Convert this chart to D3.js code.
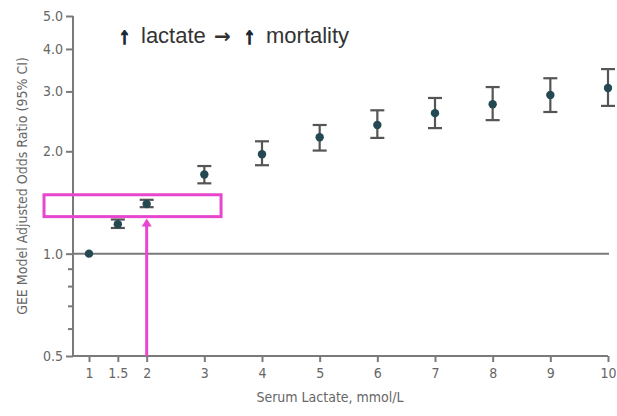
<!DOCTYPE html>
<html>
<head>
<meta charset="utf-8">
<script src="https://cdn.jsdelivr.net/npm/d3@7"></script>
<style>
  body { margin: 0; background: #fff; }
  svg { display: block; }
  .axis path, .axis line { stroke: #7a7a7a; stroke-width: 2; }
  .axis text { fill: #666; font-family: "Liberation Sans Narrow", "DejaVu Sans Condensed", sans-serif; font-size: 14px; }
</style>
</head>
<body>
<script>
// data
var lactate = [1, 1.5, 2, 3, 4, 5, 6, 7, 8, 9, 10];
var oddsRatio = [1.0, 1.22, 1.40, 1.71, 1.96, 2.20, 2.39, 2.59, 2.75, 2.93, 3.07];
var ciLow  = [null, 1.19, 1.37, 1.61, 1.82, 2.01, 2.19, 2.34, 2.47, 2.61, 2.72];
var ciHigh = [null, 1.26, 1.44, 1.81, 2.14, 2.39, 2.64, 2.87, 3.09, 3.28, 3.49];

var xTicks = [1, 1.5, 2, 3, 4, 5, 6, 7, 8, 9, 10];
var yTicks = [0.5, 1, 2, 3, 4, 5];
var yMinor = [0.6, 0.7, 0.8, 0.9];

// highlight box + arrow (in data units)
var boxX = [0.22, 3.29];
var boxY = [1.285, 1.49];
var arrowX = 2;

var w = 617, h = 416;
var svg = d3.select("body").append("svg").attr("width", w).attr("height", h);

var x = d3.scaleLinear().domain([1, 10]).range([89, 608]);
var y = d3.scaleLog().domain([0.5, 5]).range([356, 16]);

// x axis
var xAxis = svg.append("g")
    .attr("class", "axis")
    .attr("transform", "translate(0,356)")
    .call(d3.axisBottom(x).tickValues(xTicks).tickSize(6).tickPadding(6)
        .tickFormat(function(d) { return d; }));
xAxis.select(".domain").attr("d", "M73,0H608");

// y axis
var yAxis = svg.append("g")
    .attr("class", "axis")
    .attr("transform", "translate(73,0)")
    .call(d3.axisLeft(y).tickValues(yTicks).tickSize(7).tickPadding(3)
        .tickFormat(d3.format(".1f")));
yAxis.select(".domain").attr("d", "M0,356V16");

svg.append("g").selectAll("line")
    .data(yMinor)
    .enter()
    .append("line")
    .attr("x1", 68).attr("x2", 73)
    .attr("y1", function(d) { return y(d); })
    .attr("y2", function(d) { return y(d); })
    .attr("stroke", "#7a7a7a").attr("stroke-width", 2);

// reference line at OR = 1
svg.append("line")
    .attr("x1", 73).attr("x2", 609)
    .attr("y1", y(1)).attr("y2", y(1))
    .attr("stroke", "#7a7a7a").attr("stroke-width", 2);

// axis titles
svg.append("text")
    .attr("x", 330).attr("y", 402)
    .attr("text-anchor", "middle")
    .attr("font-family", "Liberation Sans Narrow, DejaVu Sans Condensed, sans-serif")
    .attr("font-size", 14).attr("fill", "#666")
    .text("Serum Lactate, mmol/L");

svg.append("text")
    .attr("transform", "translate(27,186) rotate(-90)")
    .attr("text-anchor", "middle")
    .attr("font-family", "Liberation Sans Narrow, DejaVu Sans Condensed, sans-serif")
    .attr("font-size", 14).attr("fill", "#666")
    .text("GEE Model Adjusted Odds Ratio (95% CI)");

// error bars
var pts = lactate.map(function(d, i) {
    return { x: d, or: oddsRatio[i], lo: ciLow[i], hi: ciHigh[i] };
});
var withCI = pts.filter(function(d) { return d.lo !== null; });
var bars = svg.append("g").attr("stroke", "#555").attr("stroke-width", 2.2);
bars.selectAll(".v").data(withCI).enter().append("line")
    .attr("x1", function(d) { return x(d.x); })
    .attr("x2", function(d) { return x(d.x); })
    .attr("y1", function(d) { return y(d.lo); })
    .attr("y2", function(d) { return y(d.hi); });
bars.selectAll(".lo").data(withCI).enter().append("line")
    .attr("x1", function(d) { return x(d.x) - 7; })
    .attr("x2", function(d) { return x(d.x) + 7; })
    .attr("y1", function(d) { return y(d.lo); })
    .attr("y2", function(d) { return y(d.lo); });
bars.selectAll(".hi").data(withCI).enter().append("line")
    .attr("x1", function(d) { return x(d.x) - 7; })
    .attr("x2", function(d) { return x(d.x) + 7; })
    .attr("y1", function(d) { return y(d.hi); })
    .attr("y2", function(d) { return y(d.hi); });

svg.append("g").selectAll("circle")
    .data(pts)
    .enter()
    .append("circle")
    .attr("cx", function(d) { return x(d.x); })
    .attr("cy", function(d) { return y(d.or); })
    .attr("r", 4.2)
    .attr("fill", "#254953");

// magenta highlight
var pink = "#e846cf";
svg.append("rect")
    .attr("x", x(boxX[0])).attr("y", y(boxY[1]))
    .attr("width", x(boxX[1]) - x(boxX[0]))
    .attr("height", y(boxY[0]) - y(boxY[1]))
    .attr("fill", "none").attr("stroke", pink).attr("stroke-width", 3);

svg.append("line")
    .attr("x1", x(arrowX)).attr("x2", x(arrowX))
    .attr("y1", 356).attr("y2", y(boxY[0]) + 8)
    .attr("stroke", pink).attr("stroke-width", 3);
svg.append("path")
    .attr("d", "M" + (x(arrowX) - 5) + "," + (y(boxY[0]) + 10) +
               "L" + x(arrowX) + "," + (y(boxY[0]) + 2) +
               "L" + (x(arrowX) + 5) + "," + (y(boxY[0]) + 10) + "Z")
    .attr("fill", pink);

// annotation
var note = svg.append("text")
    .attr("y", 43)
    .attr("font-family", "Liberation Sans, Arial, sans-serif")
    .attr("font-size", 22).attr("fill", "#333");
note.append("tspan").attr("x", 119).attr("font-weight", "bold")
    .attr("stroke", "#1e2a33").attr("stroke-width", 1.6).attr("fill", "#1e2a33")
    .text("\u2191");
note.append("tspan").attr("x", 141).text("lactate");
note.append("tspan").attr("x", 214).attr("font-family", "DejaVu Sans, sans-serif")
    .attr("font-weight", "bold").attr("font-size", 20).text("\u2192");
note.append("tspan").attr("x", 244).attr("font-weight", "bold")
    .attr("stroke", "#1e2a33").attr("stroke-width", 1.6).attr("fill", "#1e2a33")
    .text("\u2191");
note.append("tspan").attr("x", 266).text("mortality");
</script>
</body>
</html>
